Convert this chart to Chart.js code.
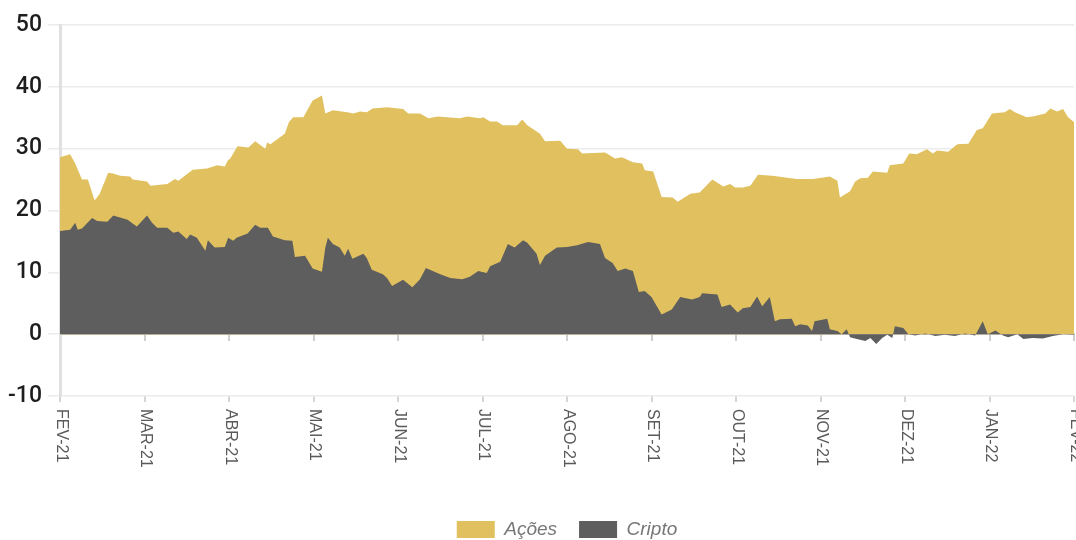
<!DOCTYPE html>
<html>
<head>
<meta charset="utf-8">
<script src="https://cdn.jsdelivr.net/npm/chart.js@4/dist/chart.umd.min.js"></script>
<style>
  html, body { margin: 0; padding: 0; background: #fff; }
  #wrap { width: 1076px; height: 540px; }
</style>
</head>
<body>
<div id="wrap"><canvas id="c" width="1076" height="540"></canvas></div>
<script>
// Month tick labels (x = months since FEV-21)
const meses = ['FEV-21','MAR-21','ABR-21','MAI-21','JUN-21','JUL-21','AGO-21','SET-21','OUT-21','NOV-21','DEZ-21','JAN-22','FEV-22'];

// Ações series
const tAcoes = [0,0.12,0.18,0.26,0.33,0.41,0.47,0.57,0.63,0.71,0.83,0.86,1.03,1.07,1.27,1.36,1.40,1.57,1.74,1.86,1.95,1.99,2.01,2.10,2.23,2.31,2.43,2.45,2.49,2.66,2.71,2.76,2.88,2.99,3.10,3.14,3.23,3.40,3.47,3.55,3.63,3.70,3.87,4.06,4.12,4.26,4.36,4.47,4.73,4.82,4.97,5.01,5.09,5.17,5.24,5.41,5.47,5.53,5.68,5.74,5.92,6.00,6.13,6.18,6.45,6.57,6.65,6.78,6.89,6.92,7.02,7.12,7.25,7.31,7.46,7.57,7.72,7.85,7.93,7.99,8.08,8.17,8.26,8.43,8.72,8.91,9.11,9.20,9.23,9.35,9.41,9.47,9.56,9.62,9.79,9.82,9.98,10.05,10.14,10.26,10.33,10.38,10.51,10.62,10.75,10.85,10.92,11.03,11.18,11.24,11.30,11.44,11.51,11.66,11.72,11.80,11.87,11.93,12.00];
const acoes = [28.6,29.1,27.6,25.0,25.0,21.6,22.7,26.1,26.0,25.6,25.5,25.0,24.7,24.0,24.3,25.1,24.8,26.6,26.8,27.3,27.1,28.2,28.3,30.4,30.2,31.2,30.0,31.0,30.7,32.4,34.3,35.1,35.1,37.8,38.6,35.7,36.2,35.9,35.7,36.0,35.9,36.5,36.7,36.4,35.7,35.7,34.9,35.2,34.9,35.2,34.9,35.1,34.4,34.4,33.8,33.8,34.7,33.8,32.4,31.2,31.3,30.0,29.9,29.2,29.4,28.4,28.6,27.8,27.6,26.5,26.3,22.2,22.1,21.4,22.7,22.9,25.0,23.9,24.3,23.7,23.7,24.0,25.8,25.6,25.1,25.1,25.5,24.8,22.1,23.1,24.7,25.2,25.3,26.3,26.1,27.3,27.6,29.2,29.1,29.9,29.2,29.7,29.5,30.7,30.8,33.0,33.3,35.7,35.9,36.4,35.9,35.1,35.2,35.7,36.5,36.0,36.4,35.1,34.3];

// Cripto series
const tCripto = [0,0.12,0.18,0.21,0.26,0.38,0.44,0.56,0.63,0.80,0.86,0.91,1.03,1.09,1.15,1.27,1.34,1.40,1.50,1.54,1.62,1.72,1.75,1.83,1.95,1.99,2.05,2.09,2.22,2.31,2.37,2.46,2.52,2.66,2.75,2.78,2.90,2.99,3.10,3.14,3.17,3.23,3.31,3.37,3.41,3.46,3.59,3.63,3.69,3.82,3.87,3.93,4.06,4.17,4.26,4.33,4.50,4.62,4.76,4.85,4.95,5.05,5.09,5.21,5.30,5.38,5.48,5.53,5.64,5.68,5.74,5.88,6.00,6.12,6.25,6.39,6.45,6.54,6.60,6.69,6.78,6.85,6.92,7.00,7.12,7.24,7.34,7.48,7.57,7.60,7.78,7.83,7.93,8.02,8.08,8.17,8.25,8.31,8.40,8.46,8.52,8.66,8.70,8.76,8.85,8.90,8.93,9.08,9.11,9.20,9.25,9.31,9.35,9.43,9.53,9.59,9.66,9.73,9.79,9.85,9.88,9.98,10.04,10.12,10.24,10.36,10.47,10.59,10.71,10.83,10.92,10.98,11.07,11.16,11.22,11.33,11.40,11.51,11.63,11.75,11.87,12.00];
const cripto = [16.7,16.9,18.0,16.9,17.1,18.8,18.3,18.2,19.2,18.5,17.9,17.4,19.2,18.0,17.2,17.2,16.4,16.6,15.4,16.1,15.6,13.5,15.2,14.0,14.1,15.6,15.1,15.6,16.3,17.7,17.2,17.2,15.8,15.2,15.1,12.5,12.7,10.6,10.1,14.0,15.6,14.6,14.0,12.7,13.8,12.2,13.0,12.3,10.4,9.7,9.1,7.8,8.8,7.6,8.9,10.7,9.7,9.1,8.9,9.3,10.2,9.9,11.0,11.7,14.6,14.0,15.2,14.8,13.0,11.2,12.7,14.0,14.1,14.4,14.9,14.6,12.3,11.5,10.2,10.6,10.2,6.8,7.0,6.0,3.2,4.0,6.0,5.6,6.0,6.6,6.4,4.4,4.8,3.5,4.2,4.4,6.1,4.5,6.0,2.1,2.4,2.5,1.3,1.6,1.4,0.5,2.1,2.5,0.8,0.5,0.0,0.8,-0.5,-0.8,-1.1,-0.6,-1.6,-0.6,-0.1,-0.6,1.3,1.0,0.0,-0.2,0.1,-0.3,-0.1,-0.3,0.1,-0.2,2.1,0.0,0.6,-0.2,-0.5,0.0,-0.8,-0.6,-0.7,-0.3,0.0,-0.1];

const yTicks = [-10, 0, 10, 20, 30, 40, 50];

const SANS = '"Liberation Sans", Arial, sans-serif';
const YFONT = 'Roboto, "Liberation Sans", sans-serif';

const xLabelsPlugin = {
  id: 'xLabels',
  afterDraw(chart) {
    const s = chart.scales.x;
    const ctx = chart.ctx;
    ctx.save();
    ctx.font = '16px ' + SANS;
    ctx.fillStyle = '#5a5a5a';
    ctx.textAlign = 'left';
    ctx.textBaseline = 'middle';
    meses.forEach((m, i) => {
      const px = s.getPixelForValue(i);
      ctx.save();
      ctx.translate(px + 1, s.top + 13);
      ctx.rotate(Math.PI / 2);
      ctx.fillText(m, 0, 0);
      ctx.restore();
    });
    ctx.restore();
  }
};

const chart = new Chart(document.getElementById('c'), {
  type: 'line',
  data: {
    datasets: [
      {
        label: 'Ações',
        data: tAcoes.map((t, i) => ({ x: t, y: acoes[i] })),
        backgroundColor: '#E1C15F',
        borderWidth: 0,
        pointRadius: 0,
        fill: 'origin',
        order: 1
      },
      {
        label: 'Cripto',
        data: tCripto.map((t, i) => ({ x: t, y: cripto[i] })),
        backgroundColor: '#5E5E5E',
        borderWidth: 0,
        pointRadius: 0,
        fill: 'origin',
        order: 0
      }
    ]
  },
  options: {
    responsive: false,
    animation: false,
    events: [],
    layout: { padding: { top: 25, right: 2, left: 0, bottom: 0 } },
    scales: {
      x: {
        type: 'linear',
        min: 0,
        max: 12,
        ticks: { display: false, stepSize: 1 },
        grid: { drawOnChartArea: false, tickLength: 6, color: '#d6d6d6', lineWidth: 2 },
        border: { display: false },
        afterFit: s => { s.height = 102; }
      },
      x0: {
        type: 'linear',
        position: { y: 0 },
        min: 0,
        max: 12,
        ticks: { display: false, stepSize: 1 },
        grid: { drawOnChartArea: false, tickLength: 6, color: '#cfcfcf', lineWidth: 2 },
        border: { display: true, color: '#cccccc', width: 2 }
      },
      y: {
        min: -10,
        max: 50,
        afterBuildTicks: s => { s.ticks = yTicks.map(v => ({ value: v })); },
        ticks: { color: '#1e1e1e', font: { family: YFONT, size: 23, weight: '500' }, padding: 6 },
        grid: { color: '#ebebeb', lineWidth: 1.5, tickLength: 12 },
        border: { display: true, color: '#e0e0e0', width: 3 },
        afterFit: s => { s.width = 60; }
      }
    },
    plugins: {
      legend: {
        position: 'bottom',
        fullSize: false,
        labels: {
          boxWidth: 38,
          boxHeight: 17,
          padding: 22,
          color: '#777777',
          font: { family: SANS, size: 19, style: 'italic' },
          sort: (a, b) => a.datasetIndex - b.datasetIndex
        }
      },
      tooltip: { enabled: false }
    }
  },
  plugins: [xLabelsPlugin]
});

// Tighten the legend block so its row sits near the bottom edge
const lg = chart.legend;
const origFit = lg.fit.bind(lg);
lg.fit = function () { origFit(); this.height = 42; };
chart.update();
</script>
</body>
</html>
